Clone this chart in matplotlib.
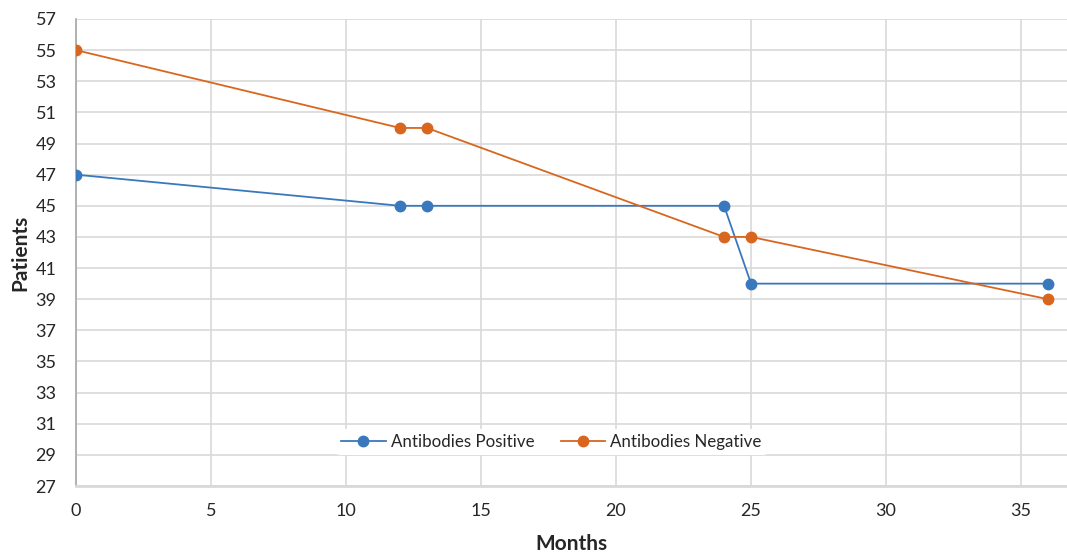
import numpy as np
import matplotlib.pyplot as plt

plt.rcParams['font.family'] = ['Lato', 'DejaVu Sans']

# follow-up time points (months) and patient counts per group
months = [0, 12, 13, 24, 25, 36]
ab_positive = [47, 45, 45, 45, 40, 40]
ab_negative = [55, 50, 50, 43, 43, 39]

x_ticks = np.arange(0, 36, 5)
y_ticks = np.arange(27, 58, 2)

fig = plt.figure(figsize=(10.67, 5.55), dpi=100)
ax = fig.add_axes([0.0712, 0.1243, 0.9288, 0.8415])

ax.plot(months, ab_positive, color='#3A78BE', lw=1.3, marker='o', ms=7.5,
        label='Antibodies Positive', zorder=3)
ax.plot(months, ab_negative, color='#D9661F', lw=1.3, marker='o', ms=7.5,
        label='Antibodies Negative', zorder=3)

ax.set_xlim(0, 36.7)
ax.set_ylim(27, 57)
ax.set_xticks(x_ticks)
ax.set_yticks(y_ticks)
ax.grid(True, color='#d9d9d9', lw=1.2)
ax.set_axisbelow(True)
ax.tick_params(length=0, labelsize=13, colors='#262626')
ax.tick_params(axis='y', pad=14)
ax.tick_params(axis='x', pad=12)

for side in ['top', 'right']:
    ax.spines[side].set_visible(False)
ax.spines['left'].set_color('#a6a6a6')
ax.spines['left'].set_linewidth(1.2)
ax.spines['bottom'].set_color('#d9d9d9')
ax.spines['bottom'].set_linewidth(2)

ax.set_xlabel('Months', fontsize=15, fontweight='bold', color='#262626', labelpad=11)
ax.set_ylabel('Patients', fontsize=15, fontweight='bold', color='#262626', labelpad=4)

leg = ax.legend(loc='center', bbox_to_anchor=(0.48, 0.095), ncol=2, frameon=True,
                fontsize=12.2, handlelength=2.6, columnspacing=1.6,
                borderpad=0.3, handletextpad=0.3)
leg.get_frame().set_edgecolor('none')
leg.get_frame().set_facecolor('white')
leg.get_frame().set_alpha(1)
for t in leg.get_texts():
    t.set_color('#262626')

fig.savefig('out.png', dpi=100)
